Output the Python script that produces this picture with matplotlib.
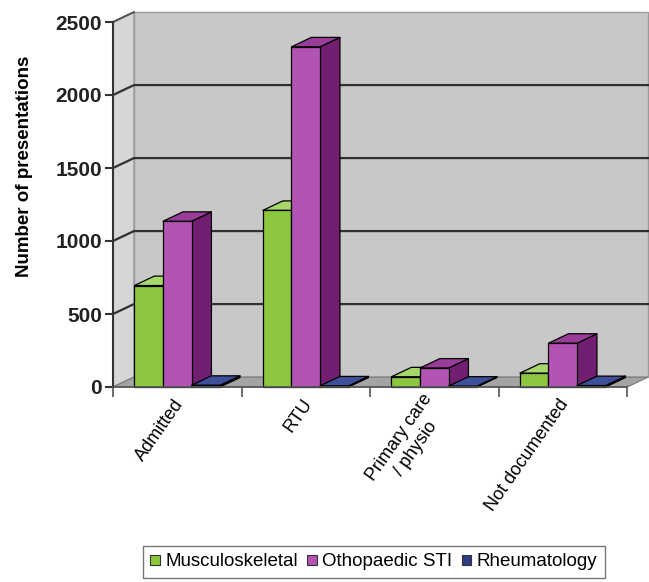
import matplotlib.pyplot as plt
from matplotlib.patches import Polygon, Patch

plt.rcParams['font.family'] = ['Liberation Sans', 'DejaVu Sans']

categories = ["Admitted", "RTU", "Primary care\n/ physio", "Not documented"]
series_names = ["Musculoskeletal", "Othopaedic STI", "Rheumatology"]
musculoskeletal = [695, 1210, 70, 95]
orthopaedic = [1135, 2330, 130, 300]
rheumatology = [12, 8, 6, 10]
yticks = [0, 500, 1000, 1500, 2000, 2500]

# face colours per series: front, top, side
palette = [
    ("#8dc63f", "#a8d86c", "#5e8a25"),
    ("#b353b3", "#9a3c9a", "#721e72"),
    ("#2d3c84", "#3f509a", "#1e2a60"),
]

YMAX = 2500
DX, DV = 0.163, 68          # oblique depth offset (category units, value units)
BAR_W = 1 / 4.5             # gap width 150%
BAR_D = 0.95                # bar depth as fraction of floor depth

W, H = 649, 582
fig = plt.figure(figsize=(W / 100, H / 100), dpi=100)
ax = fig.add_axes([113 / W, (H - 387) / H, 514 / W, 365 / H])
ax.set_xlim(0, len(categories))
ax.set_ylim(0, YMAX)
ax.patch.set_visible(False)

# walls and floor
n = len(categories)
ax.add_patch(Polygon([(DX, DV), (n + DX, DV), (n + DX, YMAX + DV), (DX, YMAX + DV)],
                     closed=True, fc="#c8c8c8", ec="#9a9a9a", lw=1, clip_on=False, zorder=0.5))
ax.add_patch(Polygon([(0, 0), (DX, DV), (DX, YMAX + DV), (0, YMAX)],
                     closed=True, fc="#d6d6d6", ec="#9a9a9a", lw=1, clip_on=False, zorder=0.5))
ax.add_patch(Polygon([(0, 0), (n, 0), (n + DX, DV), (DX, DV)],
                     closed=True, fc="#a4a4a4", ec="#808080", lw=1, clip_on=False, zorder=0.6))

# gridlines on back wall and side wall
for v in yticks[1:-1]:
    ax.plot([0, DX, n + DX], [v, v + DV, v + DV], color="#303030", lw=1.6,
            clip_on=False, zorder=0.7)
ax.plot([0, DX], [YMAX, YMAX + DV], color="#505050", lw=1.4, clip_on=False, zorder=0.7)


def draw_box(x0, w, h, cols):
    dx, dv = DX * BAR_D, DV * BAR_D
    front, top, side = cols
    faces = [
        ([(x0 + w, 0), (x0 + w + dx, dv), (x0 + w + dx, h + dv), (x0 + w, h)], side),
        ([(x0, h), (x0 + w, h), (x0 + w + dx, h + dv), (x0 + dx, h + dv)], top),
        ([(x0, 0), (x0 + w, 0), (x0 + w, h), (x0, h)], front),
    ]
    for pts, c in faces:
        ax.add_patch(Polygon(pts, closed=True, fc=c, ec="black", lw=0.9,
                             joinstyle="round", clip_on=False, zorder=2))


all_series = [musculoskeletal, orthopaedic, rheumatology]
for i in range(n):
    for s, vals in enumerate(all_series):
        x0 = i + 0.75 * BAR_W + s * BAR_W
        draw_box(x0, BAR_W, vals[i], palette[s])

# axes styling
for side in ("top", "right"):
    ax.spines[side].set_visible(False)
ax.spines["left"].set_color("#333333")
ax.spines["left"].set_linewidth(1.5)
ax.spines["bottom"].set_color("#555555")
ax.spines["bottom"].set_linewidth(1.2)
ax.set_yticks(yticks)
ax.set_yticklabels([str(v) for v in yticks], fontsize=15, fontweight="bold", color="#222222")
ax.tick_params(axis="y", length=6, width=1.5, color="#333333", pad=2)
ax.set_xticks(range(n + 1))
ax.set_xticklabels([])
ax.tick_params(axis="x", length=7, width=1.2, color="#555555")

for i, lab in enumerate(categories):
    ax.text(i + 0.52, -95, lab, rotation=55, rotation_mode="anchor",
            ha="right", va="center", multialignment="center", fontsize=13,
            transform=ax.transData)

fig.text(25 / W, 1 - 166 / H, "Number of presentations", rotation=90,
         ha="center", va="center", fontsize=13.5, fontweight="bold")

handles = [Patch(facecolor=palette[s][0], edgecolor="#333333", lw=0.8)
           for s in range(3)]
leg = fig.legend(handles, series_names, loc="center", ncol=3,
                 bbox_to_anchor=(374 / W, 1 - 562 / H), fontsize=13.5,
                 frameon=True, fancybox=False, handlelength=0.5, handleheight=0.5,
                 handletextpad=0.3, columnspacing=0.5, borderpad=0.4)
leg.get_frame().set_edgecolor("#555555")
leg.get_frame().set_linewidth(1.0)

fig.savefig("out.png", dpi=100, facecolor="white")
